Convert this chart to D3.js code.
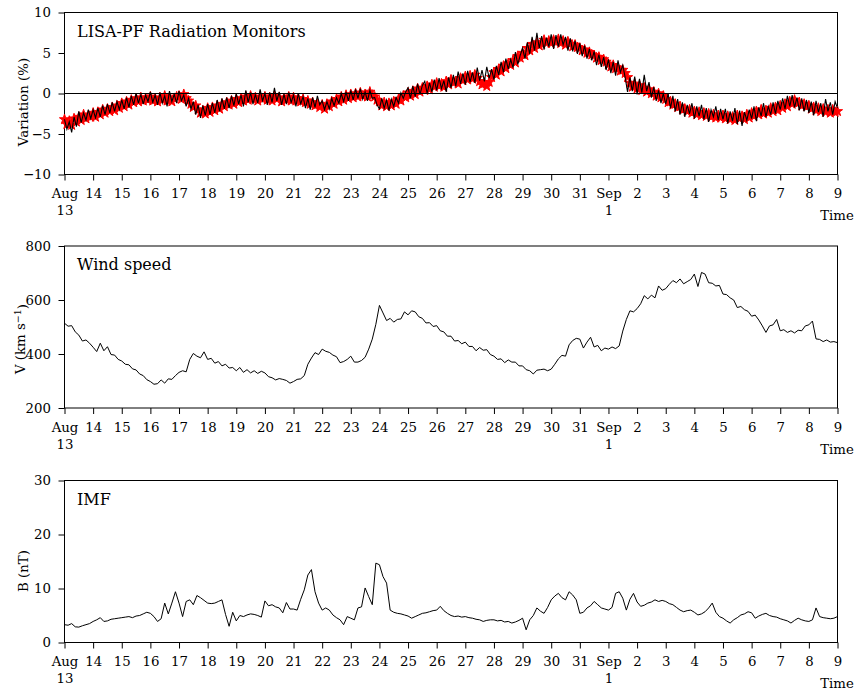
<!DOCTYPE html>
<html>
<head>
<meta charset="utf-8">
<script src="https://cdn.jsdelivr.net/npm/d3@7"></script>
<style>
  body { margin: 0; background: #fff; }
  svg { display: block; }
  text { font-family: "DejaVu Serif", serif; fill: #000; }
</style>
</head>
<body>
<svg id="chart" width="857" height="688"></svg>
<script>
// Time span: Aug 13 00:00 UTC to Sep 9 00:00 UTC
const startDate = Date.UTC(2016, 7, 13);
const endDate = Date.UTC(2016, 8, 9);
const radiationStepHours = 2;   // radiation monitor cadence
const solarWindStepHours = 3;   // solar wind / IMF cadence

// LISA-PF radiation monitor, smoothed channel (red stars), % variation
const radiationSmooth = [
  -3.2, -3.8, -3.4, -3.9, -3.1, -3.5, -2.9, -3.3, -2.6, -3.1, -2.7, -2.9,
  -2.4, -2.9, -2.3, -2.6, -2.0, -2.4, -1.9, -2.2, -1.7, -2.1, -1.5, -1.8,
  -1.2, -1.6, -1.0, -1.4, -0.8, -1.1, -0.6, -1.0, -0.5, -0.9, -0.6, -0.8,
  -0.4, -0.9, -0.6, -1.0, -0.5, -0.8, -0.3, -0.9, -0.5, -1.0, -0.6, -0.4,
  -0.3, -0.7, -0.1, -0.6, -0.9, -1.3, -1.7, -1.5, -2.0, -2.4, -2.1, -2.5,
  -1.8, -2.3, -1.7, -2.1, -1.5, -1.9, -1.3, -1.6, -1.1, -1.4, -0.9, -1.3,
  -0.7, -1.1, -0.6, -0.9, -0.4, -0.8, -0.3, -0.7, -0.5, -0.9, -0.4, -0.7,
  -0.4, -0.8, -0.5, -0.9, -0.3, -0.7, -0.5, -1.0, -0.6, -0.8, -0.4, -0.9,
  -0.5, -0.9, -0.6, -1.0, -0.7, -1.1, -0.9, -1.3, -1.1, -1.5, -1.3, -1.7,
  -1.4, -1.9, -1.3, -1.6, -1.0, -1.3, -0.7, -1.0, -0.4, -0.8, -0.2, -0.6,
  -0.1, -0.5, 0.0, -0.4, 0.1, -0.3, -0.1, -0.4, 0.2, -0.2, -0.4, -0.8,
  -1.0, -1.5, -1.1, -1.6, -1.2, -1.5, -1.0, -1.3, -0.7, -0.9, -0.3, -0.5,
  0.1, -0.3, 0.3, -0.1, 0.6, 0.2, 0.7, 0.4, 0.9, 0.5, 1.1, 0.8,
  1.3, 0.9, 1.2, 0.8, 1.5, 1.1, 1.7, 1.3, 1.5, 1.2, 1.9, 1.6,
  2.1, 1.7, 2.2, 1.8, 2.3, 1.9, 1.5, 1.1, 1.3, 0.9, 1.4, 2.0,
  2.6, 2.3, 3.0, 2.7, 3.4, 3.1, 3.7, 3.5, 4.1, 3.8, 4.6, 4.4,
  5.0, 4.7, 5.6, 5.3, 6.1, 5.6, 6.3, 5.9, 6.1, 6.6, 6.2, 6.5,
  6.2, 6.6, 6.3, 6.7, 6.2, 6.5, 6.0, 6.4, 6.1, 5.8, 6.0, 5.7,
  5.6, 5.3, 5.4, 5.0, 5.1, 4.8, 4.7, 4.4, 4.5, 4.1, 4.2, 3.9,
  3.6, 3.3, 3.5, 3.1, 3.2, 2.8, 2.9, 2.5, 2.0, 1.3, 0.8, 1.2,
  0.6, 1.0, 0.4, 0.7, 0.2, 0.5, 0.0, 0.2, -0.3, 0.0, -0.5, -0.3,
  -0.7, -1.1, -1.0, -1.4, -1.3, -1.7, -1.6, -2.0, -1.9, -2.2, -2.0, -2.4,
  -2.2, -2.6, -2.3, -2.7, -2.4, -2.8, -2.5, -2.9, -2.6, -3.0, -2.7, -3.0,
  -2.7, -3.1, -2.8, -3.2, -2.9, -3.3, -2.7, -3.1, -2.8, -3.2, -2.6, -3.0,
  -2.4, -2.8, -2.2, -2.6, -2.0, -2.5, -2.1, -2.4, -1.8, -2.2, -1.7, -2.1,
  -1.5, -1.8, -1.3, -1.6, -1.0, -1.3, -0.8, -1.2, -1.1, -1.5, -1.3, -1.6,
  -1.5, -1.9, -1.7, -2.1, -1.8, -2.2, -1.9, -2.3, -2.0, -2.4, -2.0, -2.3,
  -2.2
];

// LISA-PF radiation monitor, raw channel (black line), % variation
const radiationRaw = [
  -3.2, -4.4, -3.5, -4.8, -2.9, -4.1, -2.2, -3.6, -2.4, -3.3, -2.0, -3.1,
  -2.0, -3.0, -1.8, -2.9, -1.5, -2.6, -1.3, -2.4, -1.1, -2.2, -1.0, -2.0,
  -0.8, -1.9, -0.5, -1.7, -0.3, -1.4, 0.0, -1.2, -0.1, -1.3, -0.2, -1.0,
  0.2, -1.1, -0.2, -1.4, 0.1, -1.2, -0.3, -1.6, 0.3, -1.0, -0.1, -1.2,
  0.3, -0.9, -0.2, -1.6, -0.6, -1.9, -1.0, -2.6, -1.4, -3.0, -1.5, -2.7,
  -1.3, -2.6, -1.2, -2.4, -0.8, -2.2, -0.6, -1.9, -0.5, -1.8, -0.3, -1.5,
  0.0, -1.3, -0.2, -1.6, 0.4, -1.1, 0.1, -1.3, -0.1, -1.2, 0.5, -0.9,
  0.0, -1.4, 0.1, -1.1, 0.7, -0.9, 0.2, -1.4, -0.1, -1.3, 0.1, -1.1,
  -0.2, -1.6, 0.0, -1.3, -0.4, -1.8, -0.6, -2.0, -0.5, -1.7, -0.3, -1.4,
  -0.9, -2.0, -1.0, -1.9, -0.6, -1.5, -0.5, -1.2, 0.0, -1.0, 0.2, -0.9,
  0.4, -0.8, 0.5, -0.6, 0.6, -0.7, 0.2, -0.9, 0.4, -0.6, -0.5, -1.4,
  -1.9, -0.6, -1.8, -0.8, -2.1, -0.7, -1.6, -0.5, -1.2, 0.1, -0.6, 0.2,
  0.7, -0.6, 0.9, -0.4, 1.2, -0.1, 1.0, 1.5, 0.0, 1.3, 0.2, 1.7,
  0.4, 1.9, 0.6, 1.6, 0.2, 2.0, 0.7, 2.3, 0.9, 2.7, 1.2, 2.5,
  1.1, 2.8, 1.4, 2.6, 1.3, 3.2, 1.6, 2.9, 1.5, 3.3, 1.9, 3.0,
  1.7, 3.4, 2.3, 3.9, 2.6, 4.3, 3.0, 4.2, 3.2, 5.1, 3.6, 4.7,
  5.6, 4.3, 6.3, 4.9, 7.0, 5.3, 7.5, 5.6, 7.1, 5.4, 6.9, 5.8,
  7.3, 5.5, 7.2, 5.8, 7.3, 6.0, 7.0, 5.3, 6.8, 5.2, 6.5, 4.9,
  6.2, 4.6, 5.9, 4.3, 5.5, 4.1, 5.2, 3.5, 4.8, 3.3, 4.5, 2.9,
  4.2, 2.5, 3.9, 2.2, 4.1, 2.6, 3.5, 2.0, 0.2, 2.0, 0.3, 2.1,
  -0.1, 1.8, 0.1, 2.3, 0.3, 1.4, -0.5, 0.8, -0.9, 0.4, -1.2, 0.0,
  -1.3, 0.0, -1.8, -0.3, -2.2, -0.7, -2.6, -1.1, -2.9, -1.4, -2.5, -1.2,
  -3.1, -1.6, -2.8, -1.4, -3.2, -1.8, -3.5, -2.0, -2.9, -1.6, -3.3, -1.9,
  -3.2, -1.9, -3.7, -2.2, -3.4, -1.8, -3.8, -2.1, -4.0, -2.3, -3.3, -2.0,
  -3.1, -1.6, -3.4, -1.7, -2.8, -1.2, -2.9, -1.6, -2.6, -1.1, -2.5, -0.9,
  -2.0, -0.6, -1.9, -0.3, -1.6, -0.2, -1.7, -0.5, -2.1, -0.6, -2.2, -0.8,
  -2.4, -1.0, -2.7, -0.9, -2.3, -1.2, -2.9, -0.7, -2.2, -1.1, -2.6, -1.0,
  -1.8
];

// Solar wind speed, km/s
const windSpeed = [
  514, 503, 505, 482, 470, 448, 452, 440,
  425, 409, 440, 412, 427, 398, 396, 380,
  374, 362, 360, 345, 341, 326, 320, 305,
  298, 288, 290, 304, 292, 308, 306, 320,
  332, 338, 334, 380, 402, 392, 386, 408,
  380, 384, 366, 372, 356, 362, 348, 350,
  338, 350, 332, 342, 330, 338, 328, 336,
  330, 316, 312, 304, 309, 306, 302, 292,
  298, 306, 308, 320, 362, 385, 405, 398,
  418, 410, 406, 396, 390, 368, 372, 380,
  392, 370, 370, 376, 388, 418, 455, 510,
  580, 552, 524, 532, 518, 528, 530, 556,
  545, 560, 556, 538, 532, 515, 516, 502,
  505, 486, 482, 466, 466, 448, 450, 438,
  444, 428, 428, 412, 424, 414, 416, 398,
  392, 380, 382, 368, 378, 370, 370, 356,
  356, 342, 338, 326, 340, 342, 344, 338,
  344, 362, 382, 395, 392, 434, 450, 458,
  455, 422, 444, 462, 426, 432, 412, 422,
  418, 426, 420, 430, 485, 528, 560, 556,
  568, 586, 616, 604, 618, 608, 652, 636,
  642, 658, 672, 664, 678, 660, 668, 676,
  696, 650, 702, 696, 664, 662, 652, 654,
  622, 620, 608, 600, 572, 576, 564, 558,
  540, 544, 526, 504, 480, 504, 508, 528,
  486, 490, 480, 486, 478, 488, 486, 504,
  508, 522, 456, 454, 446, 452, 444, 446,
  442
];

// Interplanetary magnetic field magnitude, nT
const imfMagnitude = [
  3.3, 3.2, 3.5, 2.9, 2.85, 3.1, 3.3, 3.5,
  3.9, 4.2, 4.6, 3.9, 4.0, 4.3, 4.4, 4.5,
  4.6, 4.7, 4.8, 4.6, 4.9, 5.0, 5.3, 5.6,
  5.4, 4.8, 3.9, 4.4, 7.3, 5.3, 7.3, 9.4,
  7.3, 4.8, 7.6, 7.9, 7.0, 8.7, 8.3, 7.8,
  7.3, 7.2, 7.3, 7.6, 7.9, 5.2, 3.0, 5.6,
  4.0, 5.0, 4.8, 5.1, 5.3, 5.2, 5.0, 4.7,
  7.7, 6.8, 7.0, 6.6, 6.4, 5.5, 7.4, 6.2,
  6.2, 6.0, 8.0, 9.75, 12.5, 13.5, 9.4, 7.3,
  6.0, 6.4, 6.0, 5.1, 4.6, 4.2, 3.3, 4.8,
  4.5, 4.2, 6.4, 6.6, 10.1, 8.5, 7.0, 14.7,
  14.4, 12.2, 11.0, 6.0, 5.6, 5.4, 5.3, 5.1,
  4.9, 4.5, 4.8, 5.1, 5.4, 5.5, 5.7, 5.9,
  6.0, 6.7, 5.9, 5.4, 5.0, 4.8, 4.9, 4.7,
  4.8, 4.6, 4.5, 4.3, 4.2, 3.9, 4.1, 4.2,
  4.2, 4.0, 4.1, 3.8, 3.9, 3.6, 3.8, 4.1,
  4.5, 2.35, 4.2, 5.0, 6.4, 5.8, 5.4, 6.5,
  7.9, 8.6, 9.1, 8.3, 7.9, 9.4, 8.8, 7.9,
  5.4, 5.6, 6.4, 6.8, 7.6, 7.0, 6.4, 6.2,
  6.0, 6.5, 9.1, 9.4, 8.2, 6.0, 8.0, 9.1,
  7.5, 6.7, 6.9, 7.3, 7.5, 7.9, 7.6, 7.8,
  7.6, 7.2, 7.0, 6.5, 6.0, 5.7, 5.9, 6.0,
  5.6, 5.1, 5.3, 5.7, 6.4, 7.3, 5.6, 4.8,
  4.5, 4.0, 3.6, 4.2, 4.6, 5.1, 5.3, 5.7,
  5.5, 4.5, 4.9, 5.2, 5.4, 5.0, 4.8, 4.7,
  4.4, 4.2, 4.0, 3.6, 4.1, 4.5, 4.2, 4.0,
  3.9, 4.2, 6.4, 4.8, 4.6, 4.5, 4.4, 4.5,
  4.8
];

// Axis tick values and panel captions
const variationTicks = [-10, -5, 0, 5, 10];
const windTicks = [200, 400, 600, 800];
const imfTicks = [0, 10, 20, 30];
const panelTitles = ["LISA-PF Radiation Monitors", "Wind speed", "IMF"];
const monthNames = ["Jan","Feb","Mar","Apr","May","Jun","Jul","Aug","Sep","Oct","Nov","Dec"];

const sampleTimes = (n, hours) => d3.range(n).map(i => new Date(startDate + i * hours * 3600e3));
const radiationTimes = sampleTimes(radiationRaw.length, radiationStepHours);
const windTimes = sampleTimes(windSpeed.length, solarWindStepHours);

const svg = d3.select("#chart");
const left = 64.5, right = 837.5;
const tickFont = "13.3px", titleFont = "16px";

const x = d3.scaleUtc().domain([new Date(startDate), new Date(endDate)]).range([left, right]);
const dayTicks = d3.utcDay.range(new Date(startDate), new Date(endDate + 1));

function dayLabel(d) {
  const day = d.getUTCDate();
  if (d.getTime() === startDate || day === 1) return [monthNames[d.getUTCMonth()], String(day)];
  return [String(day)];
}

function panel(top, bottom, domain, ticks, title, label) {
  const g = svg.append("g");
  const y = d3.scaleLinear().domain(domain).range([bottom, top]);

  // bottom axis with one tick per day
  const xa = g.append("g").attr("transform", `translate(0,${bottom})`)
    .call(d3.axisBottom(x).tickValues(dayTicks).tickSize(6).tickFormat(() => ""));
  xa.select(".domain").remove();
  xa.selectAll(".tick line").attr("stroke", "#000");
  xa.selectAll(".tick").each(function(d) {
    const t = d3.select(this).select("text")
      .attr("y", null).attr("dy", null)
      .style("font-size", tickFont).attr("fill", "#000");
    dayLabel(d).forEach((s, i) => {
      t.append("tspan").attr("x", 0).attr("y", 23.5 + i * 17).text(s);
    });
  });

  // left axis
  const ya = g.append("g").attr("transform", `translate(${left},0)`)
    .call(d3.axisLeft(y).tickValues(ticks).tickSize(6).tickPadding(7.5));
  ya.select(".domain").remove();
  ya.selectAll(".tick line").attr("stroke", "#000");
  ya.selectAll(".tick text").style("font-size", tickFont).attr("fill", "#000");

  // frame
  g.append("rect")
    .attr("x", left).attr("y", top)
    .attr("width", right - left).attr("height", bottom - top)
    .attr("fill", "none").attr("stroke", "#000").attr("stroke-width", 1);

  // caption
  g.append("text").attr("x", 77).attr("y", top + 24)
    .style("font-size", titleFont).text(title);

  // "Time" axis label
  g.append("text").attr("x", right - 0.5).attr("y", bottom + 45.5)
    .attr("text-anchor", "middle").style("font-size", tickFont).text("Time");

  // y label
  const yl = g.append("text")
    .attr("transform", `translate(${label.x},${label.y}) rotate(-90)`)
    .attr("text-anchor", "middle").style("font-size", tickFont);
  label.parts.forEach(p => {
    const ts = yl.append("tspan").text(p.text);
    if (p.sup) ts.attr("dy", "-0.45em").style("font-size", "9.5px");
    if (p.after) ts.attr("dy", "0.45em");
  });

  const plot = g.append("g");
  return { y, plot };
}

// Panel 1: radiation monitors
const p1 = panel(12.5, 174.5, [-10, 10], variationTicks, panelTitles[0],
  { x: 27.5, y: 102, parts: [{ text: "Variation (%)" }] });

p1.plot.selectAll("path.star").data(radiationSmooth).join("path")
  .attr("class", "star")
  .attr("transform", (d, i) => `translate(${x(radiationTimes[i])},${p1.y(d)})`)
  .attr("d", d3.symbol(d3.symbolStar, 32))
  .attr("fill", "#ff0000").attr("stroke", "#ff0000").attr("stroke-width", 1);

p1.plot.append("line")
  .attr("x1", left).attr("x2", right)
  .attr("y1", p1.y(0)).attr("y2", p1.y(0))
  .attr("stroke", "#000").attr("stroke-width", 1);

p1.plot.append("path").datum(radiationRaw)
  .attr("fill", "none").attr("stroke", "#000").attr("stroke-width", 1.1)
  .attr("d", d3.line().x((d, i) => x(radiationTimes[i])).y(d => p1.y(d)));

// Panel 2: solar wind speed
const p2 = panel(246, 408, [200, 800], windTicks, panelTitles[1],
  { x: 25, y: 339, parts: [{ text: "V (km s" }, { text: "\u22121", sup: true }, { text: ")", after: true }] });

p2.plot.append("path").datum(windSpeed)
  .attr("fill", "none").attr("stroke", "#000").attr("stroke-width", 1)
  .attr("d", d3.line().x((d, i) => x(windTimes[i])).y(d => p2.y(d)));

// Panel 3: IMF magnitude
const p3 = panel(480.5, 642.5, [0, 30], imfTicks, panelTitles[2],
  { x: 27.5, y: 571, parts: [{ text: "B (nT)" }] });

p3.plot.append("path").datum(imfMagnitude)
  .attr("fill", "none").attr("stroke", "#000").attr("stroke-width", 1)
  .attr("d", d3.line().x((d, i) => x(windTimes[i])).y(d => p3.y(d)));
</script>
</body>
</html>
